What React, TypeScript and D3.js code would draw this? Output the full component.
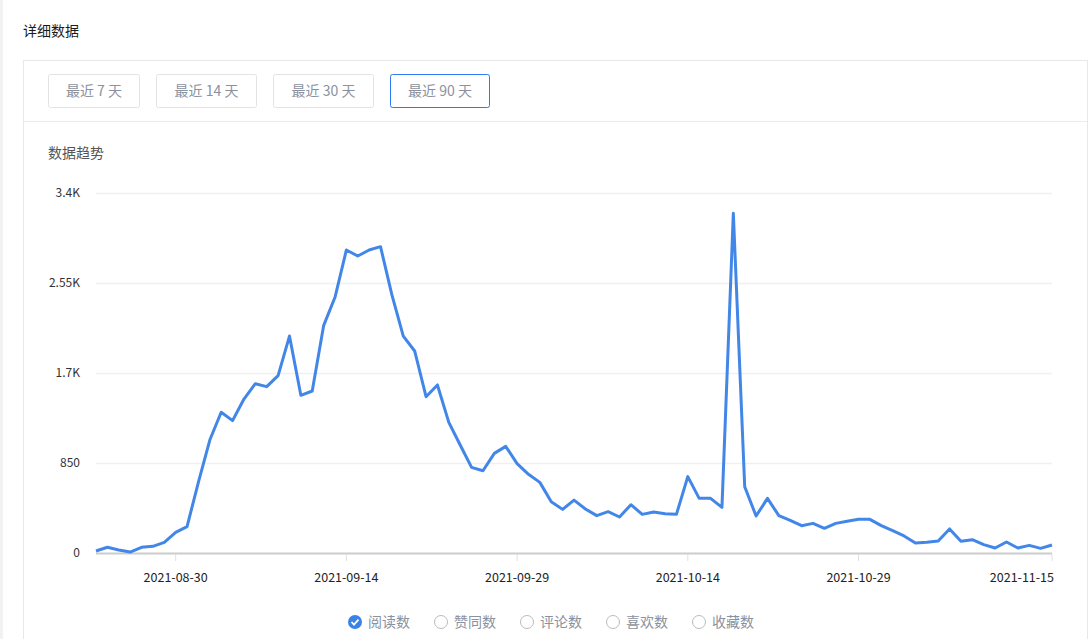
import React from "react";
import * as d3 from "d3";

const startDate = "2021-08-23";
const readCounts = [
  19, 54, 28, 9, 54, 63, 101, 195, 249, 670,
  1067, 1329, 1250, 1454, 1599, 1571, 1675, 2049, 1489, 1530,
  2147, 2415, 2862, 2805, 2862, 2893, 2437, 2049, 1908, 1476,
  1587, 1234, 1020, 809, 777, 941, 1007, 844, 743, 667,
  485, 412, 500, 416, 353, 390, 340, 456, 365, 387,
  371, 365, 721, 516, 516, 431, 3208, 626, 349, 516,
  353, 309, 258, 280, 233, 280, 299, 318, 318, 258,
  211, 161, 94, 101, 113, 227, 110, 126, 79, 47,
  104, 47, 72, 44, 76,
];
const yTicks = [0, 850, 1700, 2550, 3400];
const yTickLabels = ["0", "850", "1.7K", "2.55K", "3.4K"];
const xTickDates = ["2021-08-30", "2021-09-14", "2021-09-29", "2021-10-14", "2021-10-29", "2021-11-15"];
const rangeButtons = ["最近 7 天", "最近 14 天", "最近 30 天", "最近 90 天"];
const legendItems = ["阅读数", "赞同数", "评论数", "喜欢数", "收藏数"];

const FONT = "'Noto Sans CJK SC', 'Microsoft YaHei', sans-serif";

export default function App() {
  const parse = d3.utcParse("%Y-%m-%d");
  const start = parse(startDate)!;
  const data = readCounts.map((v, i) => ({ date: d3.utcDay.offset(start, i), value: v }));
  const x = d3.scaleUtc().domain([data[0].date, data[data.length - 1].date]).range([96, 1052]);
  const y = d3.scaleLinear().domain([0, 3400]).range([553, 193]);
  const line = d3.line<{ date: Date; value: number }>().x(d => x(d.date)).y(d => y(d.value));

  const btnX = [48.5, 156.5, 273.5, 390.5];
  const btnW = [91, 100, 100, 99];
  const legendX = [355, 441, 527, 613, 699];

  return (
    <div style={{ position: "fixed", left: 0, top: 0, width: 1090, height: 639, background: "#fff" }}>
      <svg width={1090} height={639} style={{ display: "block", fontFamily: FONT }}>
        <rect x={0} y={0} width={3} height={639} fill="#f2f2f2" />
        <text x={23} y={36} fontSize={14} fill="#1a1a1a">详细数据</text>
        <rect x={23.5} y={60.5} width={1064} height={600} fill="#fff" stroke="#e8e8e8" />
        <line x1={24} x2={1087} y1={121.5} y2={121.5} stroke="#ececec" />
        {rangeButtons.map((b, i) => (
          <g key={b}>
            <rect x={btnX[i]} y={74.5} width={btnW[i]} height={33} rx={2}
              fill="#fff" stroke={i === 3 ? "#2f7bf5" : "#e3e3e3"} />
            <text x={btnX[i] + btnW[i] / 2} y={96} textAnchor="middle" fontSize={14} fill="#8a919f">{b}</text>
          </g>
        ))}
        <text x={48} y={158} fontSize={14} fill="#555">数据趋势</text>
        {yTicks.map((t, i) => (
          <g key={t}>
            {i > 0 && <line x1={96} x2={1052} y1={y(t) + 0.5} y2={y(t) + 0.5} stroke="#f0f0f0" strokeWidth={1.5} />}
            <text x={80} y={y(t) + 4} textAnchor="end" fontSize={12} fill="#333">{yTickLabels[i]}</text>
          </g>
        ))}
        <line x1={96} x2={1052} y1={553.5} y2={553.5} stroke="#cccccc" strokeWidth={2} />
        {xTickDates.map((d, i) => {
          const px = x(parse(d)!);
          const last = i === xTickDates.length - 1;
          return (
            <g key={d}>
              <line x1={px} x2={px} y1={554} y2={561} stroke="#e0e0e0" />
              <text x={last ? 1054 : px} y={582} textAnchor={last ? "end" : "middle"} fontSize={12.5} fill="#222">{d}</text>
            </g>
          );
        })}
        <path d={line(data) || ""} fill="none" stroke="#4287e8" strokeWidth={3} strokeLinejoin="round" />
        {legendItems.map((l, i) => (
          <g key={l}>
            {i === 0 ? (
              <g>
                <circle cx={legendX[i]} cy={622} r={7} fill="#3b82e6" />
                <path d={`M${legendX[i] - 3.5},622 l2.5,2.7 l4.5,-5`} fill="none" stroke="#fff" strokeWidth={1.8} />
              </g>
            ) : (
              <circle cx={legendX[i]} cy={622} r={6.5} fill="#fff" stroke="#bbbbbb" />
            )}
            <text x={legendX[i] + 13} y={627} fontSize={14} fill="#8a919f">{l}</text>
          </g>
        ))}
      </svg>
    </div>
  );
}
